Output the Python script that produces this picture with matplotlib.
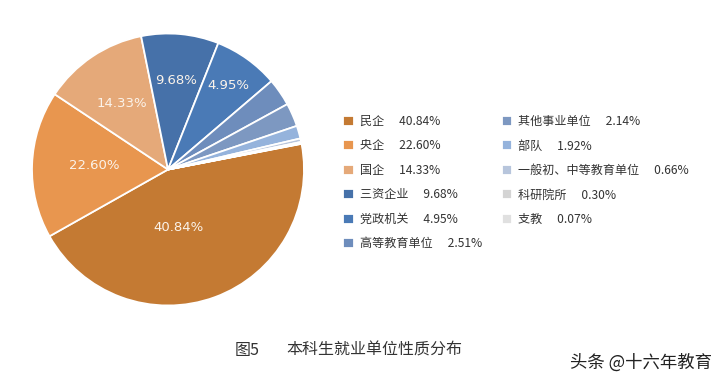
import matplotlib
matplotlib.use("Agg")
import matplotlib.pyplot as plt
import numpy as np

plt.rcParams["font.family"] = ["Noto Sans CJK SC", "DejaVu Sans"]

# categories and the percentages printed on the chart
units = ["民企", "央企", "国企", "三资企业", "党政机关", "高等教育单位",
         "其他事业单位", "部队", "一般初、中等教育单位", "科研院所", "支教"]
shares = ["40.84%", "22.60%", "14.33%", "9.68%", "4.95%", "2.51%",
          "2.14%", "1.92%", "0.66%", "0.30%", "0.07%"]
# slice sizes as drawn in the picture (degrees of arc)
slice_deg = [161.5, 63.0, 45.0, 33.1, 27.8, 11.8, 10.0, 5.5, 1.5, 0.6, 0.2]
colors = ["#C47A33", "#E8964F", "#E5A979", "#4671A9", "#4A7AB6", "#6E8DBC",
          "#7D98C1", "#95B3DC", "#B7C5DC", "#D4D4D4", "#E0E0E0"]

fig = plt.figure(figsize=(7.28, 3.84), dpi=100)

W, H = 728, 384
cx, cy, r = 168, 169.5, 136
ax = fig.add_axes([(cx - r) / W, (H - cy - r) / H, 2 * r / W, 2 * r / H])

wedges, _ = ax.pie(slice_deg, colors=colors, startangle=10.9, counterclock=False,
                   radius=1, wedgeprops=dict(edgecolor="white", linewidth=1.3))
ax.set_xlim(-1, 1)
ax.set_ylim(-1, 1)
ax.set_aspect("equal")
ax.axis("off")

# labels on the five biggest slices
label_r = [0.43, 0.54, 0.59, 0.66, 0.76]
label_shift = [-10, -1, 1, 0, 0]
for i in range(5):
    w = wedges[i]
    ang = np.deg2rad((w.theta1 + w.theta2) / 2 + label_shift[i])
    ax.text(label_r[i] * np.cos(ang), label_r[i] * np.sin(ang), shares[i],
            ha="center", va="center", fontsize=9.5, color="#FBF3EA",
            family=["DejaVu Sans"])

labels = [f"{u}\u3000 {s}" for u, s in zip(units, shares)]
fig.legend(wedges, labels, loc="upper left", ncol=2, frameon=False,
           bbox_to_anchor=(343 / W, 1 - 115 / H), bbox_transform=fig.transFigure,
           fontsize=8.7, handlelength=0.9, handleheight=0.9, handletextpad=0.5,
           labelspacing=0.95, columnspacing=1.6, borderpad=0, borderaxespad=0,
           labelcolor="#333333")

fig.text(235 / W, 1 - 350 / H, "图5", fontsize=11.5, color="#333333",
         ha="left", va="center")
fig.text(286 / W, 1 - 350 / H, "本科生就业单位性质分布", fontsize=11.5,
         color="#333333", ha="left", va="center", fontweight="medium")
fig.text(712 / W, 1 - 363 / H, "头条 @十六年教育", fontsize=12.5,
         color="#222222", ha="right", va="center")

fig.savefig("out.png", dpi=100, facecolor="white")
